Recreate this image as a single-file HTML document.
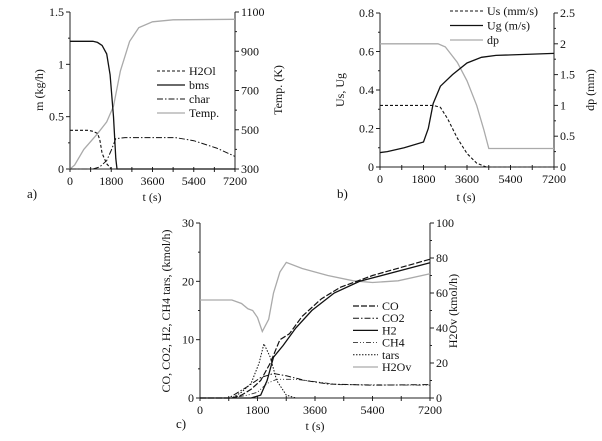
<!DOCTYPE html>
<html><head><meta charset="utf-8"><style>
html,body{margin:0;padding:0;background:#fff;}
svg{display:block;font-family:"Liberation Serif",serif;}
</style></head><body>
<svg id="fig" width="602" height="441" viewBox="0 0 602 441"></svg>
<script>
// ---- Panel a data ----
const aTicksX = [0,1800,3600,5400,7200];
const aTicksL = [0,0.5,1,1.5];
const aTicksR = [300,500,700,900,1100];
const aH2Ol_t = [0,800,1000,1200,1300,1400,1600,1800,7200];
const aH2Ol_v = [0.37,0.37,0.36,0.34,0.28,0.15,0.05,0,0];
const aBms_t = [0,1000,1200,1400,1600,1750,1900,2000,2050,7200];
const aBms_v = [1.22,1.22,1.21,1.18,1.1,0.9,0.5,0.1,0,0];
const aChar_t = [0,1000,1300,1600,1800,2000,2400,4600,5400,6400,7200];
const aChar_v = [0,0,0.02,0.08,0.18,0.29,0.3,0.3,0.27,0.2,0.12];
const aTemp_t = [0,200,600,1200,1600,1900,2200,2600,3000,3600,4500,7200];
const aTemp_v = [300,320,400,480,540,620,800,950,1020,1050,1060,1063];
// ---- Panel b data ----
const bTicksL = [0,0.2,0.4,0.6,0.8];
const bTicksR = [0,0.5,1,1.5,2,2.5];
const bUs_t = [0,2200,2500,2800,3200,3600,4000,4400,7200];
const bUs_v = [0.32,0.32,0.31,0.25,0.15,0.07,0.02,0,0];
const bUg_t = [0,300,1000,1800,2000,2200,2500,3000,3600,4200,4800,7200];
const bUg_v = [0.075,0.08,0.1,0.13,0.2,0.33,0.42,0.48,0.54,0.57,0.58,0.59];
const bDp_t = [0,2400,2700,3200,3600,4000,4300,4500,7200];
const bDp_v = [2,2,1.95,1.7,1.4,1.0,0.6,0.3,0.3];
// ---- Panel c data ----
const cTicksL = [0,10,20,30];
const cTicksR = [0,20,40,60,80,100];
const cCO_t = [0,1000,1300,1600,1900,2200,2500,2800,3200,3800,4400,5400,7200];
const cCO_v = [0,0,0.5,1.5,3,6,10,11,14,17,19,21,23.8];
const cH2_t = [0,1600,1900,2100,2300,2600,3000,3500,4200,5000,7200];
const cH2_v = [0,0,0.5,3,7,9,12,15,18,20,23.2];
const cCO2_t = [0,900,1200,1500,1900,2300,2700,3300,4000,5400,7200];
const cCO2_v = [0,0,1,2,3.5,4.2,3.8,3,2.4,2.2,2.3];
const cCH4_t = [0,1000,1500,1800,2100,2400,3000,3600,4300,7200];
const cCH4_v = [0,0,0.5,1,2.5,3.2,3.2,2.8,2.3,2.2];
const cTars_t = [0,1000,1300,1600,1850,2000,2200,2400,2700,3000];
const cTars_v = [0,0,1,2.5,6,9.3,7,3,0.5,0];
const cH2Ov_t = [0,1000,1300,1500,1650,1800,1950,2150,2300,2500,2700,3200,4000,4800,5400,6200,7200];
const cH2Ov_v = [56,56,54,51,50,46,38,45,60,72,77.5,74,70,67,66,67,71];

const NS="http://www.w3.org/2000/svg";
const svg=document.getElementById('fig');
function mk(tag,attrs,parent){const e=document.createElementNS(NS,tag);for(const k in attrs)e.setAttribute(k,attrs[k]);(parent||svg).appendChild(e);return e;}
function txt(s,x,y,anchor,size,parent,rot){const t=mk('text',{x:x,y:y,'text-anchor':anchor,'font-size':size,fill:'#111'},parent);if(rot)t.setAttribute('transform','rotate(-90 '+x+' '+y+')');t.textContent=s;return t;}

function panel(name,P,ticksL,ticksR,lmin,lmax,rmin,rmax,fmtL,fmtR){
  const g=mk('g',{});
  
  
  const xs=t=>P.l+(t/7200)*(P.r-P.l);
  const yl=v=>P.b-(v-lmin)/(lmax-lmin)*(P.b-P.t);
  const yr=v=>P.b-(v-rmin)/(rmax-rmin)*(P.b-P.t);
  const ax=mk('g',{stroke:'#222','stroke-width':1},g);
  
  
  mk('line',{x1:P.l,y1:P.t,x2:P.l,y2:P.b},ax);
  mk('line',{x1:P.r,y1:P.t,x2:P.r,y2:P.b},ax);
  mk('line',{x1:P.l,y1:P.b,x2:P.r,y2:P.b},ax);
  for(let t=0;t<=7200;t+=900){mk('line',{x1:xs(t),y1:P.b-2,x2:xs(t),y2:P.b+3},ax);}
  aTicksX.forEach(t=>{txt(String(t),xs(t),P.b+16,'middle',12,g);});
  for(let i=0;i<ticksL.length;i++){const v=ticksL[i];mk('line',{x1:P.l-4,y1:yl(v),x2:P.l,y2:yl(v)},ax);txt(fmtL(v),P.l-6,yl(v)+4,'end',12,g);
    if(i<ticksL.length-1){const m=(v+ticksL[i+1])/2;mk('line',{x1:P.l-2,y1:yl(m),x2:P.l,y2:yl(m)},ax);}}
  for(let i=0;i<ticksR.length;i++){const v=ticksR[i];mk('line',{x1:P.r,y1:yr(v),x2:P.r+4,y2:yr(v)},ax);txt(fmtR(v),P.r+6,yr(v)+4,'start',12,g);
    if(i<ticksR.length-1){const m=(v+ticksR[i+1])/2;mk('line',{x1:P.r,y1:yr(m),x2:P.r+2,y2:yr(m)},ax);}}
  return {g,xs,yl,yr};
}
function series(p,name,ts,vs,axis,style){
  const y=axis==='r'?p.yr:p.yl;
  const pts=ts.map((t,i)=>p.xs(t).toFixed(1)+','+y(vs[i]).toFixed(1)).join(' ');
  const e=mk('polyline',Object.assign({points:pts,fill:'none'},style),p.g);
  
  
}
function legend(p,items,x1,x2,y0,dy){
  const g=mk('g',{},p.g);
  
  
  items.forEach((it,i)=>{const y=y0+i*dy;mk('line',Object.assign({x1:x1,y1:y,x2:x2,y2:y},it[1]),g);
    const t=txt(it[0],x2+4,y+4,'start',12,g);
    
    });
}
const DASH={stroke:'#111','stroke-width':1.1,'stroke-dasharray':'3,2'};
const SOLID={stroke:'#111','stroke-width':1.3};
const DD={stroke:'#111','stroke-width':1,'stroke-dasharray':'6,2,1.5,2'};
const GREY={stroke:'#aaa','stroke-width':1.3};
const f=v=>String(v);

// Panel a
const A=panel('panel-a',{l:70,r:235,t:12,b:169},aTicksL,aTicksR,0,1.5,300,1100,f,f);
series(A,'temp-line',aTemp_t,aTemp_v,'r',GREY);
series(A,'h2ol-line',aH2Ol_t,aH2Ol_v,'l',DASH);
series(A,'char-line',aChar_t,aChar_v,'l',DD);
series(A,'bms-line',aBms_t,aBms_v,'l',SOLID);
legend(A,[['H2Ol',DASH],['bms',SOLID],['char',DD],['Temp.',GREY]],157,185,71,14);
txt('m (kg/h)',43,90,'middle',12,A.g,true);
txt('Temp. (K)',282,90,'middle',12,A.g,true);
txt('t (s)',152,201,'middle',12,A.g);
txt('a)',27,198,'start',13,A.g);

// Panel b
const B=panel('panel-b',{l:380,r:554,t:13,b:167},bTicksL,bTicksR,0,0.8,0,2.5,f,f);
series(B,'dp-line',bDp_t,bDp_v,'r',GREY);
series(B,'us-line',bUs_t,bUs_v,'l',DASH);
series(B,'ug-line',bUg_t,bUg_v,'l',SOLID);
legend(B,[['Us (mm/s)',DASH],['Ug (m/s)',SOLID],['dp',GREY]],450,483,11,14.5);
txt('Us, Ug',344,90,'middle',12,B.g,true);
txt('dp (mm)',594,90,'middle',12,B.g,true);
txt('t (s)',466,201,'middle',12,B.g);
txt('b)',337,198,'start',13,B.g);

// Panel c
const C=panel('panel-c',{l:200,r:430,t:223,b:398},cTicksL,cTicksR,0,30,0,100,f,f);
series(C,'h2ov-line',cH2Ov_t,cH2Ov_v,'r',GREY);
series(C,'tars-line',cTars_t,cTars_v,'l',{stroke:'#111','stroke-width':1,'stroke-dasharray':'1.5,1.5'});
series(C,'ch4-line',cCH4_t,cCH4_v,'l',{stroke:'#333','stroke-width':0.9,'stroke-dasharray':'5,2,1,2,1,2'});
series(C,'co2-line',cCO2_t,cCO2_v,'l',DD);
series(C,'co-line',cCO_t,cCO_v,'l',{stroke:'#111','stroke-width':1.2,'stroke-dasharray':'6,2'});
series(C,'h2-line',cH2_t,cH2_v,'l',SOLID);
legend(C,[['CO',{stroke:'#111','stroke-width':1.2,'stroke-dasharray':'6,2'}],['CO2',DD],['H2',SOLID],['CH4',{stroke:'#333','stroke-width':0.9,'stroke-dasharray':'5,2,1,2,1,2'}],['tars',{stroke:'#111','stroke-width':1,'stroke-dasharray':'1.5,1.5'}],['H2Ov',GREY]],353,378,306,12.2);
txt('CO, CO2, H2, CH4 tars, (kmol/h)',170,311,'middle',12,C.g,true);
txt('H2Ov (kmol/h)',457,311,'middle',12,C.g,true);
txt('t (s)',315,430,'middle',12,C.g);
txt('c)',176,428,'start',13,C.g);
</script>
</body></html>
